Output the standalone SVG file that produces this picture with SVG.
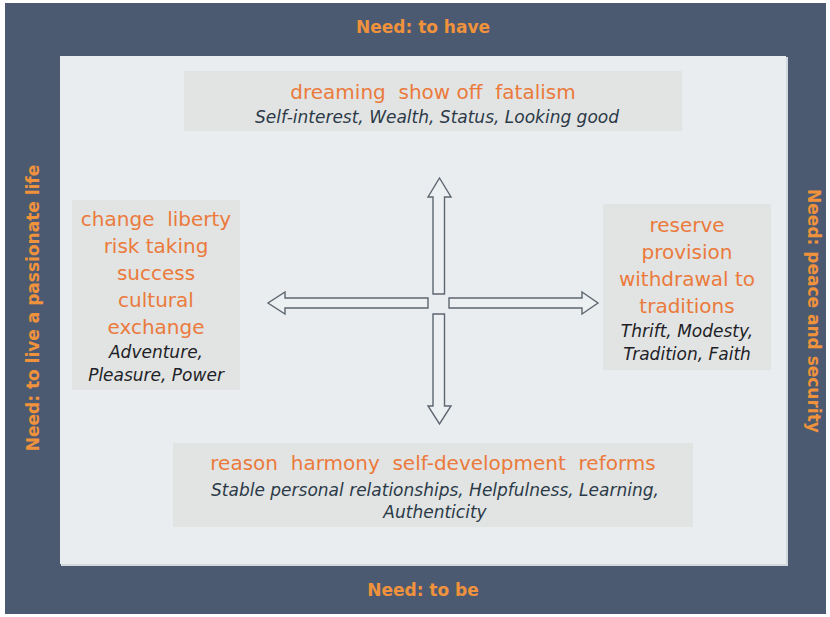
<svg xmlns="http://www.w3.org/2000/svg" width="830" height="617" viewBox="0 0 830 617">
  <style>
    text { white-space: pre; }
    .need { font-family: "DejaVu Sans", Verdana, sans-serif; font-weight: bold; font-size: 17px; fill: #f0923c; }
    .key { font-family: "DejaVu Sans", Verdana, sans-serif; font-size: 20px; fill: #eb7a3c; text-anchor: middle; }
    .val { font-family: "DejaVu Sans", Verdana, sans-serif; font-style: italic; font-size: 17px; fill: #2c3a48; text-anchor: middle; }
    .side .val { fill: #1e2226; }
    .box { fill: #e1e4e3; }
    .arrow { fill: #edf0f2; stroke: #5d6670; stroke-width: 1.4; stroke-linejoin: miter; }
  </style>
  <rect width="830" height="617" fill="#ffffff"/>
  <!-- outer frame -->
  <rect x="5" y="3" width="821" height="611" fill="#4b5a70"/>
  <!-- inner panel -->
  <rect x="61" y="57" width="727" height="509" fill="#d2d8de"/>
  <rect x="60" y="56" width="726" height="508" fill="#e9edf0"/>

  <!-- frame labels -->
  <g id="label-have"><text class="need" x="423" y="33" text-anchor="middle">Need: to have</text></g>
  <g id="label-be"><text class="need" x="423" y="596" text-anchor="middle">Need: to be</text></g>
  <g id="label-passionate"><text class="need" transform="translate(39,308) rotate(-90)" text-anchor="middle">Need: to live a passionate life</text></g>
  <g id="label-peace"><text class="need" transform="translate(808,311) rotate(90)" text-anchor="middle">Need: peace and security</text></g>

  <!-- quadrant boxes -->
  <g id="top-box">
    <rect class="box" x="184" y="71" width="498" height="60"/>
    <text class="key" x="433" y="99">dreaming  show off  fatalism</text>
    <text class="val" x="437" y="123">Self-interest, Wealth, Status, Looking good</text>
  </g>
  <g id="left-box" class="side">
    <rect class="box" x="72" y="200" width="168" height="190"/>
    <text class="key" x="156" y="226">change  liberty</text>
    <text class="key" x="156" y="253">risk taking</text>
    <text class="key" x="156" y="280">success</text>
    <text class="key" x="156" y="307">cultural</text>
    <text class="key" x="156" y="334">exchange</text>
    <text class="val" x="156" y="358">Adventure,</text>
    <text class="val" x="156" y="381">Pleasure, Power</text>
  </g>
  <g id="right-box" class="side">
    <rect class="box" x="603" y="204" width="168" height="166"/>
    <text class="key" x="687" y="232">reserve</text>
    <text class="key" x="687" y="259">provision</text>
    <text class="key" x="687" y="286">withdrawal to</text>
    <text class="key" x="687" y="313">traditions</text>
    <text class="val" x="687" y="337">Thrift, Modesty,</text>
    <text class="val" x="687" y="360">Tradition, Faith</text>
  </g>
  <g id="bottom-box">
    <rect class="box" x="173" y="443" width="520" height="84"/>
    <text class="key" x="433" y="470">reason  harmony  self-development  reforms</text>
    <text class="val" x="435" y="496">Stable personal relationships, Helpfulness, Learning,</text>
    <text class="val" x="435" y="518">Authenticity</text>
  </g>

  <!-- block arrows -->
  <g id="arrows">
    <polygon class="arrow" points="433,294 433,197 428,197 439.5,178 451,197 444.5,197 444.5,294"/>
    <polygon class="arrow" points="433,314 433,406 428,406 439.5,424 451,406 444.5,406 444.5,314"/>
    <polygon class="arrow" points="428,298 285,298 285,292 268,303 285,314 285,308 428,308"/>
    <polygon class="arrow" points="449,298 582,298 582,292 598,303 582,314 582,308 449,308"/>
  </g>
</svg>
